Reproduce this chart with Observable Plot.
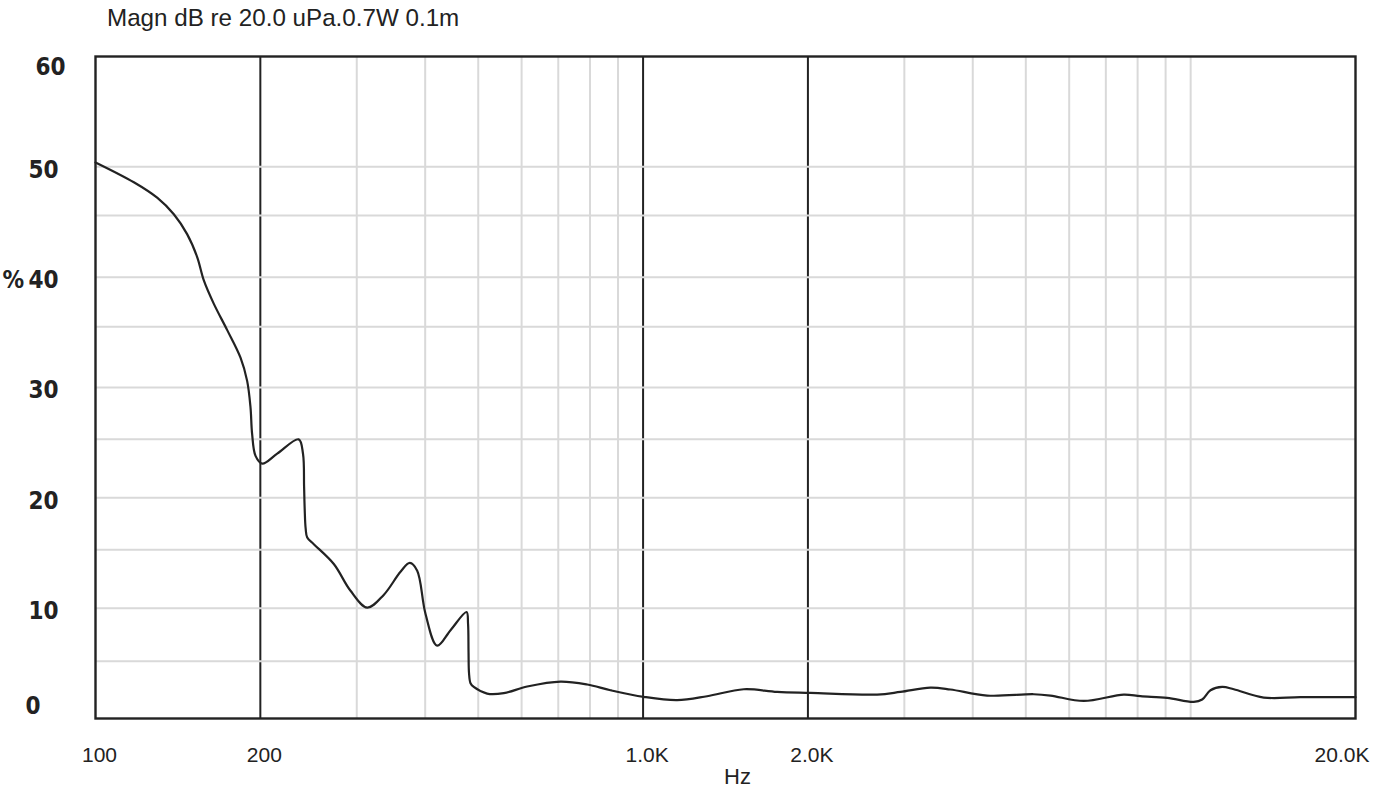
<!DOCTYPE html>
<html>
<head>
<meta charset="utf-8">
<script src="https://cdn.jsdelivr.net/npm/d3@7"></script>
<script src="https://cdn.jsdelivr.net/npm/@observablehq/plot@0.6"></script>
<style>
  html, body { margin: 0; padding: 0; background: #fff; }
  #wrap { position: relative; width: 1387px; height: 788px; }
  #title { position: absolute; left: 107px; top: 6px; font: 24.2px "Liberation Sans", Arial, sans-serif; line-height: 24px; color: #222; white-space: nowrap; }
  #chart { position: absolute; left: 0; top: 36px; }
</style>
</head>
<body>
<div id="wrap">
  <div id="title">Magn dB re 20.0 uPa.0.7W 0.1m</div>
  <div id="chart"></div>
</div>
<script>
// Frequency (Hz) and response values
const freq = [100, 117.5, 129.6, 139, 147, 153.4, 157.7, 164.4, 174, 184, 189.2, 191.9, 193.2, 196, 201.6, 214.7, 235, 239.3, 240.4, 241, 242, 243.6, 250.4, 272.4, 292, 313.5, 336, 360.6, 375, 386.8, 400.5, 420.7, 445, 476, 479, 480, 481, 484, 490.7, 519, 556.7, 614.3, 706.8, 790.7, 871.9, 1003, 1154, 1309, 1527, 1758, 2022, 2676, 2951, 3348, 3641, 4250, 5170, 5546, 6380, 7548, 8097, 9058, 10131, 10496, 10869, 11416, 11987, 13600, 15867, 20000];
const level = [50.4, 48.6, 47.2, 45.7, 43.9, 41.8, 39.7, 37.6, 35.2, 32.7, 30.6, 28.2, 25.8, 23.8, 23.1, 24.0, 25.3, 24.0, 21.0, 19.0, 17.2, 16.4, 15.8, 14.0, 11.6, 10.05, 11.2, 13.3, 14.1, 13.4, 9.5, 6.6, 8.0, 9.65, 8.6, 6.0, 4.1, 3.2, 2.86, 2.26, 2.3, 2.9, 3.35, 3.08, 2.56, 1.96, 1.66, 2.02, 2.65, 2.41, 2.32, 2.17, 2.41, 2.8, 2.63, 2.08, 2.2, 2.08, 1.59, 2.17, 2.02, 1.87, 1.5, 1.72, 2.56, 2.86, 2.65, 1.9, 1.93, 1.93];

const xTicks = [100, 200, 1000, 2000, 20000];
const xTickLabels = ["100", "200", "1.0K", "2.0K", "20.0K"];
const yTicks = [0, 10, 20, 30, 40, 50, 60];
const yTickLabels = ["0", "10", "20", "30", "%\u200940", "50", "60"];
const majorV = [200, 1000, 2000];
const minorV = [300, 400, 500, 600, 700, 800, 900, 3000, 4000, 5000, 6000, 7000, 8000, 9000, 10000];
const gridH = [5.2, 10, 15.3, 20, 25.3, 30, 35.5, 40, 45.6, 50];

const data = freq.map((f, i) => ({f, v: level[i]}));
const xt = xTicks.map((t, i) => ({t, label: xTickLabels[i]}));
const yt = yTicks.map((t, i) => ({t, label: yTickLabels[i]}));

const sans = '"Liberation Sans", Arial, sans-serif';
const cond = '"DejaVu Sans Condensed", "DejaVu Sans", sans-serif';

const chart = Plot.plot({
  width: 1387,
  height: 752,
  marginTop: 20,
  marginBottom: 70,
  marginLeft: 95,
  marginRight: 32,
  x: {type: "log", domain: [100, 20000], axis: null},
  y: {domain: [0, 60], axis: null},
  style: {background: "#fff", overflow: "visible"},
  marks: [
    Plot.ruleX(minorV, {stroke: "#d9d9d9", strokeWidth: 2}),
    Plot.ruleX(majorV, {stroke: "#222", strokeWidth: 2}),
    Plot.ruleY(gridH, {stroke: "#d9d9d9", strokeWidth: 2}),
    Plot.frame({stroke: "#222", strokeWidth: 2.4}),
    Plot.line(data, {x: "f", y: "v", stroke: "#222", strokeWidth: 2.2, curve: "catmull-rom"}),
    Plot.text(xt.filter(d => d.t < 20000), {x: "t", y: 0, text: "label", dy: 37, dx: 4, fontSize: 21, fontFamily: sans, fill: "#222"}),
    Plot.text(xt.filter(d => d.t === 20000), {x: "t", y: 0, text: "label", dy: 37, dx: 14, textAnchor: "end", fontSize: 21, fontFamily: sans, fill: "#222"}),
    Plot.text(["Hz"], {frameAnchor: "bottom", dx: 12, dy: 65, fontSize: 22, fontFamily: sans, fill: "#222"}),
    Plot.text(yt.filter(d => d.t > 0 && d.t < 60), {x: 100, y: "t", text: "label", dx: -37, dy: 3, textAnchor: "end", fontSize: 24, fontWeight: "bold", fontFamily: cond, fill: "#222"}),
    Plot.text(yt.filter(d => d.t === 60), {x: 100, y: "t", text: "label", dx: -30, dy: 11, textAnchor: "end", fontSize: 24, fontWeight: "bold", fontFamily: cond, fill: "#222"}),
    Plot.text(yt.filter(d => d.t === 0), {x: 100, y: "t", text: "label", dx: -55, dy: -12, textAnchor: "end", fontSize: 24, fontWeight: "bold", fontFamily: cond, fill: "#222"})
  ]
});
document.getElementById("chart").appendChild(chart);
</script>
</body>
</html>
